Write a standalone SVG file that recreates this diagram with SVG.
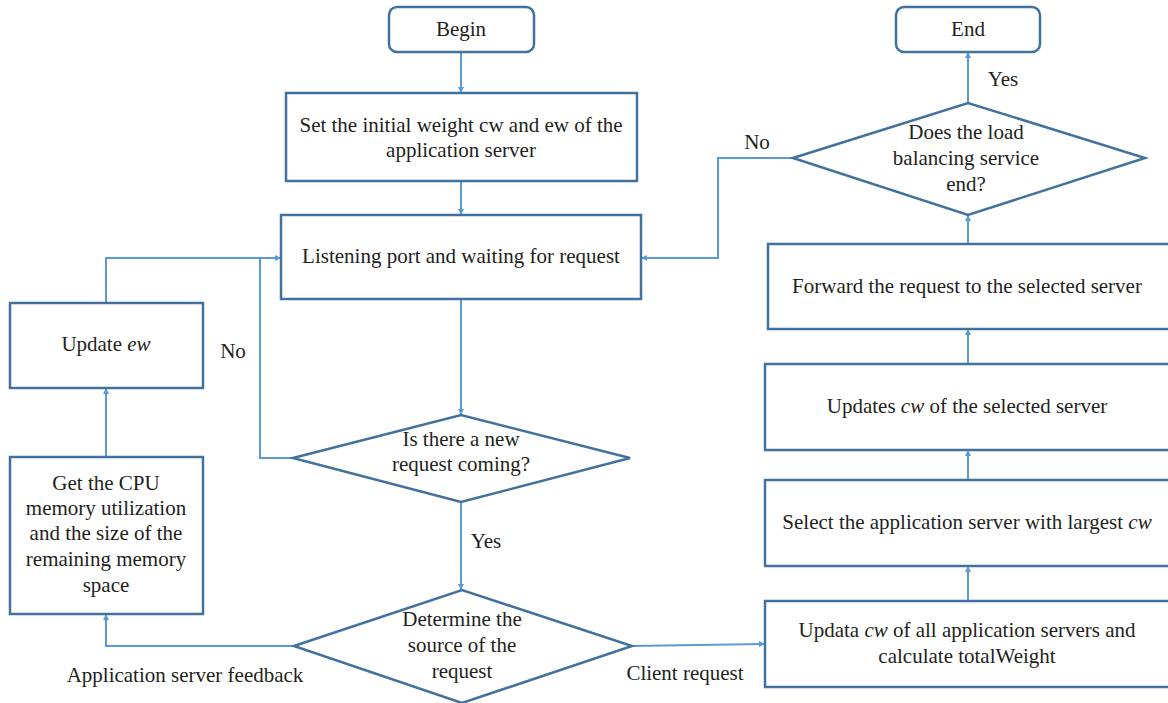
<svg xmlns="http://www.w3.org/2000/svg" width="1168" height="703" viewBox="0 0 1168 703">
<style>
  .box { fill: #ffffff; stroke: #41719c; stroke-width: 2.5; }
  .wire { fill: none; stroke: #5b9bd5; stroke-width: 2; }
  text { font-family: "Liberation Serif", "DejaVu Serif", serif; font-size: 21px; fill: #231f20; text-anchor: middle; }
</style>
<defs>
  <marker id="arrow" viewBox="0 0 10 10" refX="10" refY="5" markerWidth="6" markerHeight="6" orient="auto" markerUnits="userSpaceOnUse">
    <path d="M0,0 L10,5 L0,10 Z" fill="#5b9bd5"/>
  </marker>
</defs>
<rect width="1168" height="703" fill="#ffffff"/>

<g id="connectors">
  <path class="wire" d="M461,52 V93" marker-end="url(#arrow)"/>
  <path class="wire" d="M461,181 V215" marker-end="url(#arrow)"/>
  <path class="wire" d="M461,299 V415" marker-end="url(#arrow)"/>
  <path class="wire" d="M461,502 V590" marker-end="url(#arrow)"/>
  <path class="wire" d="M293,458 H260 V258"/>
  <path class="wire" d="M106,303 V258 H281" marker-end="url(#arrow)"/>
  <path class="wire" d="M106,457 V388" marker-end="url(#arrow)"/>
  <path class="wire" d="M294,646 H106 V614" marker-end="url(#arrow)"/>
  <path class="wire" d="M632,646 L765,644" marker-end="url(#arrow)"/>
  <path class="wire" d="M968,601 V566" marker-end="url(#arrow)"/>
  <path class="wire" d="M968,480 V450" marker-end="url(#arrow)"/>
  <path class="wire" d="M968,364 V329" marker-end="url(#arrow)"/>
  <path class="wire" d="M968,244 V215" marker-end="url(#arrow)"/>
  <path class="wire" d="M968,103 V52" marker-end="url(#arrow)"/>
  <path class="wire" d="M793,158 H718 V258 H641" marker-end="url(#arrow)"/>
  <text x="233" y="358">No</text>
  <text x="486" y="548">Yes</text>
  <text x="185" y="682">Application server feedback</text>
  <text x="685" y="680">Client request</text>
  <text x="757" y="149">No</text>
  <text x="1003" y="86">Yes</text>
</g>

<g id="begin">
  <rect class="box" x="389" y="7" width="145" height="45" rx="8"/>
  <text x="461" y="36">Begin</text>
</g>
<g id="end">
  <rect class="box" x="896" y="7" width="144" height="45" rx="8"/>
  <text x="968" y="36">End</text>
</g>
<g id="set-weight">
  <rect class="box" x="286" y="93" width="351" height="88"/>
  <text x="461" y="132">Set the initial weight cw and ew of the</text>
  <text x="461" y="157">application server</text>
</g>
<g id="listening">
  <rect class="box" x="281" y="215" width="360" height="84"/>
  <text x="461" y="263">Listening port and waiting for request</text>
</g>
<g id="update-ew">
  <rect class="box" x="10" y="303" width="193" height="85"/>
  <text x="106" y="351">Update <tspan font-style="italic">ew</tspan></text>
</g>
<g id="get-cpu">
  <rect class="box" x="10" y="457" width="193" height="157"/>
  <text x="106" y="490">Get the CPU</text>
  <text x="106" y="515">memory utilization</text>
  <text x="106" y="540">and the size of the</text>
  <text x="106" y="566">remaining memory</text>
  <text x="106" y="592">space</text>
</g>
<g id="new-request">
  <polygon class="box" points="293,458 461,415 630,458 461,502"/>
  <text x="461" y="446">Is there a new</text>
  <text x="461" y="471">request coming?</text>
</g>
<g id="source">
  <polygon class="box" points="294,646 462,590 632,646 462,703"/>
  <text x="462" y="626">Determine the</text>
  <text x="462" y="652">source of the</text>
  <text x="462" y="678">request</text>
</g>
<g id="update-all">
  <rect class="box" x="765" y="601" width="410" height="86"/>
  <text x="967" y="637">Updata <tspan font-style="italic">cw</tspan> of all application servers and</text>
  <text x="967" y="663">calculate totalWeight</text>
</g>
<g id="select">
  <rect class="box" x="765" y="480" width="410" height="86"/>
  <text x="967" y="529">Select the application server with largest <tspan font-style="italic">cw</tspan></text>
</g>
<g id="updates-cw">
  <rect class="box" x="765" y="364" width="410" height="86"/>
  <text x="967" y="413">Updates <tspan font-style="italic">cw</tspan> of the selected server</text>
</g>
<g id="forward">
  <rect class="box" x="768" y="244" width="410" height="85"/>
  <text x="967" y="293">Forward the request to the selected server</text>
</g>
<g id="service-end">
  <polygon class="box" points="793,158 968,103 1145,158 968,215"/>
  <text x="966" y="139">Does the load</text>
  <text x="966" y="165">balancing service</text>
  <text x="966" y="191">end?</text>
</g>
</svg>
